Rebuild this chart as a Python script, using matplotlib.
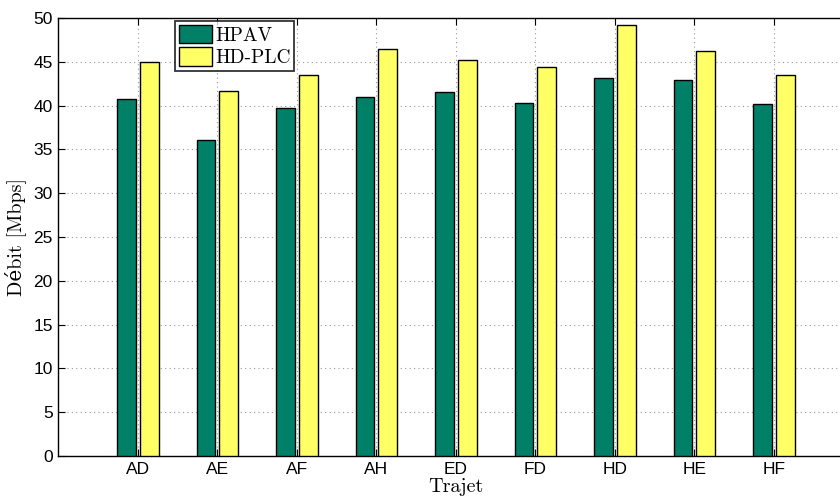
import matplotlib
matplotlib.use("Agg")
import matplotlib.pyplot as plt
import numpy as np

categories = ["AD", "AE", "AF", "AH", "ED", "FD", "HD", "HE", "HF"]
hpav = [40.75, 36.1, 39.7, 40.95, 41.5, 40.3, 43.1, 42.9, 40.2]
hdplc = [44.95, 41.65, 43.55, 46.5, 45.2, 44.45, 49.15, 46.25, 43.45]
series_names = ["HPAV", "HD-PLC"]
yticks = list(range(0, 51, 5))

green = (0.0, 0.5, 0.4)
yellow = (1.0, 1.0, 0.4)
serif = ["cmr10", "DejaVu Serif"]

fig = plt.figure(figsize=(8.4, 5.0), dpi=100)
ax = fig.add_axes([58.3 / 840, 44 / 500, 795 / 840, 438 / 500])

x = np.arange(1, len(categories) + 1)
w = 0.233
off = 0.144
ax.bar(x - off, hpav, width=w, color=green, edgecolor="black", linewidth=1.0,
       label=series_names[0], zorder=3)
ax.bar(x + off, hdplc, width=w, color=yellow, edgecolor="black", linewidth=1.0,
       label=series_names[1], zorder=3)

ax.set_xlim(0, 10)
ax.set_ylim(0, 50)
ax.set_xticks(x)
ax.set_xticklabels(categories, fontsize=12.5, family=["Liberation Sans"])
ax.set_yticks(yticks)
ax.set_yticklabels([str(v) for v in yticks], fontsize=12.5, family=["Liberation Sans"])
ax.tick_params(direction="in", length=5, top=True, right=True, width=0.8, pad=4)
ax.grid(True, linestyle=(0, (1, 3)), color="#999999", linewidth=0.8, zorder=0)
for s in ax.spines.values():
    s.set_linewidth(1.0)

ax.set_ylabel("Débit [Mbps]", family=serif, fontsize=14.5, labelpad=5)
ax.set_xlabel("Trajet", family=serif, fontsize=14.5, labelpad=1)

leg = ax.legend(loc="upper left", bbox_to_anchor=(114 / 795, 1.0), prop={"family": serif, "size": 14},
                frameon=True, fancybox=False, edgecolor="black", borderpad=0.2,
                handlelength=1.7, handleheight=1.1, handletextpad=0.15, labelspacing=0.12,
                borderaxespad=0.15)
leg.get_frame().set_linewidth(1.3)

fig.savefig("out.png", dpi=100)
